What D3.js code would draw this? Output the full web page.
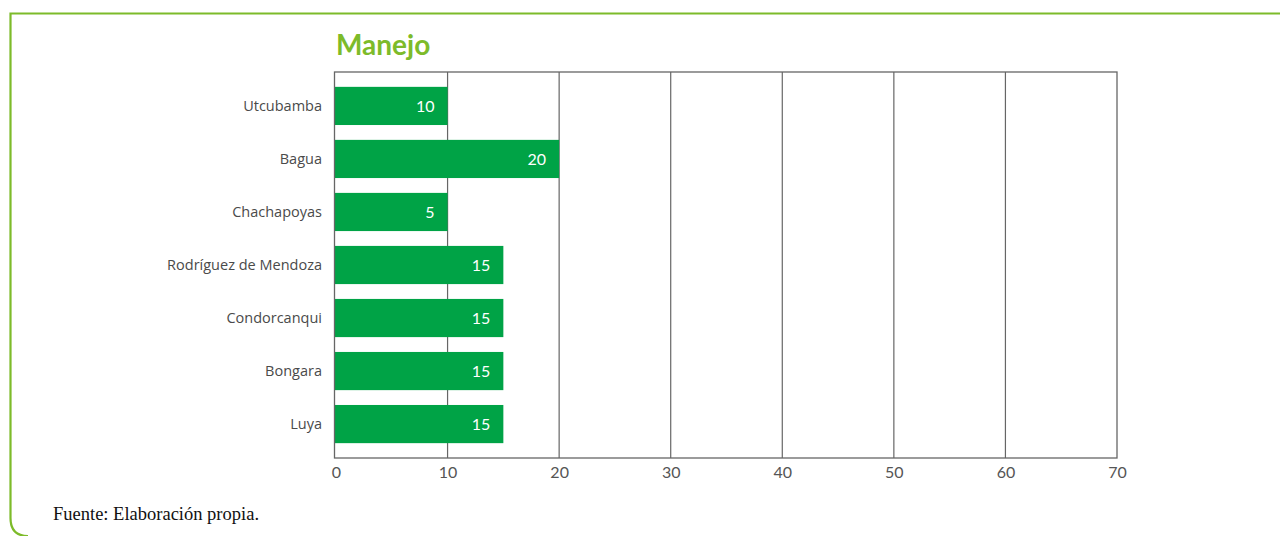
<!DOCTYPE html>
<html><head><meta charset="utf-8">
<script src="https://cdn.jsdelivr.net/npm/d3@7/dist/d3.min.js"></script>
<style>body{margin:0;background:#fff}svg{display:block}</style>
</head><body><svg id="c" width="1280" height="536"></svg>
<script>
const categories = ["Utcubamba","Bagua","Chachapoyas","Rodríguez de Mendoza","Condorcanqui","Bongara","Luya"];
const values = [10,20,10,15,15,15,15];
const valueLabels = ["10","20","5","15","15","15","15"];
const ticks = [0,10,20,30,40,50,60,70];
const title = "Manejo";
const source = "Fuente: Elaboración propia.";

const svg = d3.select("#c");
const green = "#7dbb2a";
// frame
svg.append("path").attr("d","M1280,13.5 H10.5 V518 Q10.5,536 28,536")
  .attr("fill","none").attr("stroke",green).attr("stroke-width",2.2);

const x = d3.scaleLinear().domain([0,70]).range([336,1117]);
const y = d3.scaleBand().domain(categories).range([72,458]).paddingInner(0.28).paddingOuter(0.28);

// gridlines
svg.append("g").selectAll("line").data(ticks.slice(1,-1)).join("line")
  .attr("x1",d=>x(d)).attr("x2",d=>x(d)).attr("y1",72).attr("y2",458)
  .attr("stroke","#666").attr("stroke-width",1.2);

// bars
svg.append("g").selectAll("rect").data(categories).join("rect")
  .attr("x",334.5).attr("y",d=>y(d)).attr("width",(d,i)=>x(values[i])-334.5)
  .attr("height",y.bandwidth()).attr("fill","#00a346");

// plot border
svg.append("rect").attr("x",334.5).attr("y",72).attr("width",x(70)-334.5).attr("height",386)
  .attr("fill","none").attr("stroke","#666").attr("stroke-width",1.3);

// value labels
svg.append("g").selectAll("text").data(categories).join("text")
  .attr("x",(d,i)=>x(values[i])-13).attr("y",d=>y(d)+y.bandwidth()/2+6)
  .attr("text-anchor","end").attr("fill","#fff").attr("font-family","Lato, sans-serif")
  .attr("font-size",16).text((d,i)=>valueLabels[i]);

// category labels
svg.append("g").selectAll("text").data(categories).join("text")
  .attr("x",322).attr("y",d=>y(d)+y.bandwidth()/2+5)
  .attr("text-anchor","end").attr("fill","#4a4a4a").attr("font-family","'Open Sans', sans-serif")
  .attr("font-size",14.5).text(d=>d);

// x axis tick labels
const ax = svg.append("g").attr("transform","translate(0,458)")
  .call(d3.axisBottom(x).tickValues(ticks).tickSize(0).tickPadding(9).tickFormat(d3.format("d")));
ax.select(".domain").remove();
ax.selectAll("text").attr("font-family","Lato, sans-serif").attr("font-size",16).attr("fill","#555");

// title
svg.append("text").attr("x",336).attr("y",55).attr("fill",green)
  .attr("font-family","Lato, sans-serif").attr("font-weight","bold").attr("font-size",28).text(title);

// source
svg.append("text").attr("x",53).attr("y",520).attr("fill","#111")
  .attr("font-family","'Liberation Serif', serif").attr("font-size",18.5).text(source);
</script></body></html>
